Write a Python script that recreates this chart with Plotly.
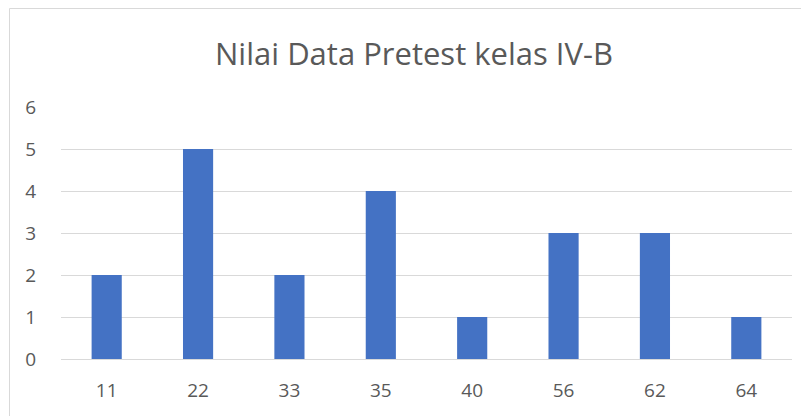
import plotly.graph_objects as go

categories = ["11", "22", "33", "35", "40", "56", "62", "64"]
values = [2, 5, 2, 4, 1, 3, 3, 1]
title_text = "Nilai Data Pretest kelas IV-B"

# page has an 8px body margin; figure coords = page coords - 8
OFF = 8
W, H = 809 - OFF, 416 - OFF
ml, mt = 61 - OFF, 107 - OFF
pw = 792 - 61
ph = 359 - 107
mr = W - ml - pw
mb = H - mt - ph

fig = go.Figure(go.Bar(x=categories, y=values, marker=dict(color="#4472C4", line=dict(width=0))))

fig.update_layout(
    width=W, height=H,
    margin=dict(l=ml, r=mr, t=mt, b=mb),
    paper_bgcolor="white", plot_bgcolor="white",
    bargap=0.67,
    showlegend=False,
    title=dict(text=title_text, x=(414 - 61) / pw, xref="paper", xanchor="center",
               y=1 - (54 - OFF) / H, yref="container", yanchor="middle",
               font=dict(family="Open Sans", size=31, color="#595959")),
    font=dict(family="Open Sans", size=19, color="#595959"),
    xaxis=dict(type="category", showgrid=False, showline=True, linecolor="#d9d9d9", linewidth=1,
               ticks="", tickfont=dict(size=19, color="#595959"), ticklabelstandoff=14),
    yaxis=dict(range=[0, 6], dtick=1, showgrid=True, gridcolor="#d9d9d9", gridwidth=1,
               zeroline=False, showline=False, ticks="", tickfont=dict(size=19, color="#595959"),
               ticklabelstandoff=24),
)

fig.add_shape(type="rect", xref="paper", yref="paper",
              x0=(9.5 - 61) / pw, x1=1.2, y0=-0.5, y1=(359 - 8.5) / ph,
              line=dict(color="#d9d9d9", width=1), fillcolor="rgba(0,0,0,0)", layer="below")

fig.write_html("out.html")
